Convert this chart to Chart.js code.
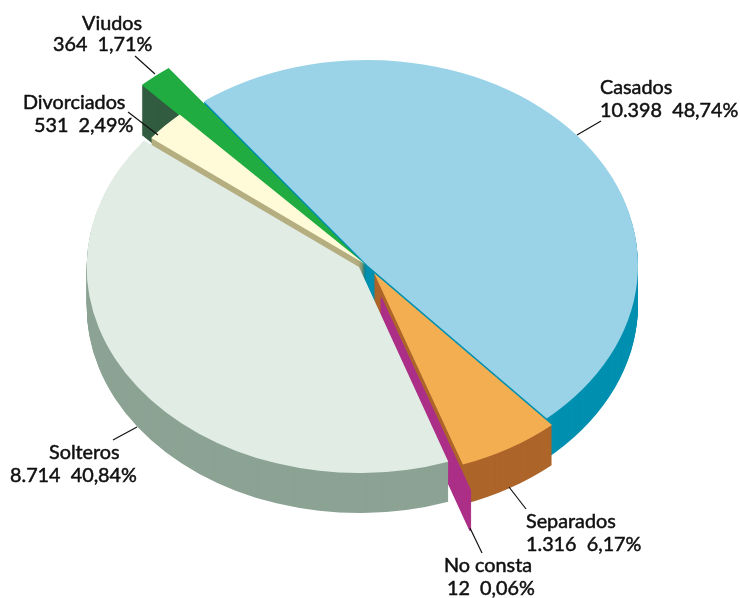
<!DOCTYPE html>
<html>
<head>
<meta charset="utf-8">
<title>Estado civil</title>
<script src="https://cdn.jsdelivr.net/npm/chart.js@4"></script>
<style>
    html, body { margin: 0; padding: 0; background: #fff; }
    canvas { display: block; }
</style>
</head>
<body>
<canvas id="pie" width="740" height="598"></canvas>
<script>
// Data
const categories = ['Casados', 'Separados', 'No consta', 'Solteros', 'Divorciados', 'Viudos'];
const values = [10398, 1316, 12, 8714, 531, 364];
const valueLabels = ['10.398', '1.316', '12', '8.714', '531', '364'];
const percentLabels = ['48,74%', '6,17%', '0,06%', '40,84%', '2,49%', '1,71%'];

// Colours
const topColors = ['#9ad3e8', '#f4ae52', '#ac3088', '#e0ece4', '#fffad8', '#20ac40'];
const sideColors = ['#0090b0', '#ad652a', '#ac3088', '#8ca394', '#b5ae80', '#325c40'];

// Fake 3D look: the round pie is squashed to an ellipse, each slice is nudged and extruded
const pieCenter = { x: 367, y: 265 };
const pieRadius = { x: 271, y: 205 };
const sliceShift = [[0, 0], [7, 8], [14, 32], [-8, 2], [-2, -1], [-1, 1]];
const sliceScale = [1, 0.99, 1, 1.005, 1, 1.21];
const sliceDepth = [40, 40, 40, 40, 24, 50];
const drawOrder = [0, 5, 4, 1, 2, 3];

// Label layout: [x of name, baseline of name, x of numbers, baseline of numbers]
const labelLayout = [
    [600, 94, 600, 117],
    [526, 528, 526, 551],
    [444, 572, 447, 595],
    [49, 459, 10, 482],
    [23, 109, 34, 132],
    [82, 30, 53, 51]
];
const leaderLines = [
    [577, 135, 601, 121],
    [509, 487, 526, 509],
    [470, 528, 482, 553],
    [113, 440, 137, 427],
    [128, 112, 158, 135],
    [135, 56, 155, 74]
];

const pie3d = {
    id: 'pie3d',
    beforeDatasetDraw(chart) {
        const ctx = chart.ctx;
        const arcs = chart.getDatasetMeta(0).data;

        ctx.save();
        drawOrder.forEach(i => {
            const arc = arcs[i];
            const sx = pieRadius.x / arc.outerRadius * sliceScale[i];
            const sy = pieRadius.y / arc.outerRadius * sliceScale[i];
            const ax = pieCenter.x + sliceShift[i][0];
            const ay = pieCenter.y + sliceShift[i][1];
            const topOptions = arc.options;
            const sideOptions = Object.create(topOptions);
            sideOptions.backgroundColor = sideColors[i];
            sideOptions.borderColor = sideColors[i];

            // side wall, one pixel layer at a time
            arc.options = sideOptions;
            for (let d = sliceDepth[i]; d > 0; d--) {
                ctx.setTransform(sx, 0, 0, sy, ax - sx * arc.x, ay + d - sy * arc.y);
                arc.draw(ctx);
            }

            // top face
            arc.options = topOptions;
            ctx.setTransform(sx, 0, 0, sy, ax - sx * arc.x, ay - sy * arc.y);
            arc.draw(ctx);
        });
        ctx.restore();
        return false;
    },
    afterDraw(chart) {
        const ctx = chart.ctx;
        ctx.save();

        ctx.strokeStyle = '#111';
        ctx.lineWidth = 1.2;
        leaderLines.forEach(l => {
            ctx.beginPath();
            ctx.moveTo(l[0], l[1]);
            ctx.lineTo(l[2], l[3]);
            ctx.stroke();
        });

        // Lato has no medium weight here, so a thin stroke thickens the regular one
        ctx.fillStyle = '#111';
        ctx.lineWidth = 0.5;
        ctx.font = '19.8px Lato';
        ctx.textAlign = 'left';
        ctx.textBaseline = 'alphabetic';
        categories.forEach((name, i) => {
            const p = labelLayout[i];
            const numbers = `${valueLabels[i]}  ${percentLabels[i]}`;
            ctx.fillText(name, p[0], p[1]);
            ctx.strokeText(name, p[0], p[1]);
            ctx.fillText(numbers, p[2], p[3]);
            ctx.strokeText(numbers, p[2], p[3]);
        });
        ctx.restore();
    }
};

new Chart(document.getElementById('pie'), {
    type: 'pie',
    data: {
        labels: categories,
        datasets: [{
            data: values,
            backgroundColor: topColors,
            borderColor: topColors,
            borderWidth: [0, 0, 1, 0, 0, 0]
        }]
    },
    options: {
        responsive: false,
        animation: false,
        rotation: -37,
        plugins: {
            legend: { display: false },
            tooltip: { enabled: false }
        }
    },
    plugins: [pie3d]
});
</script>
</body>
</html>
